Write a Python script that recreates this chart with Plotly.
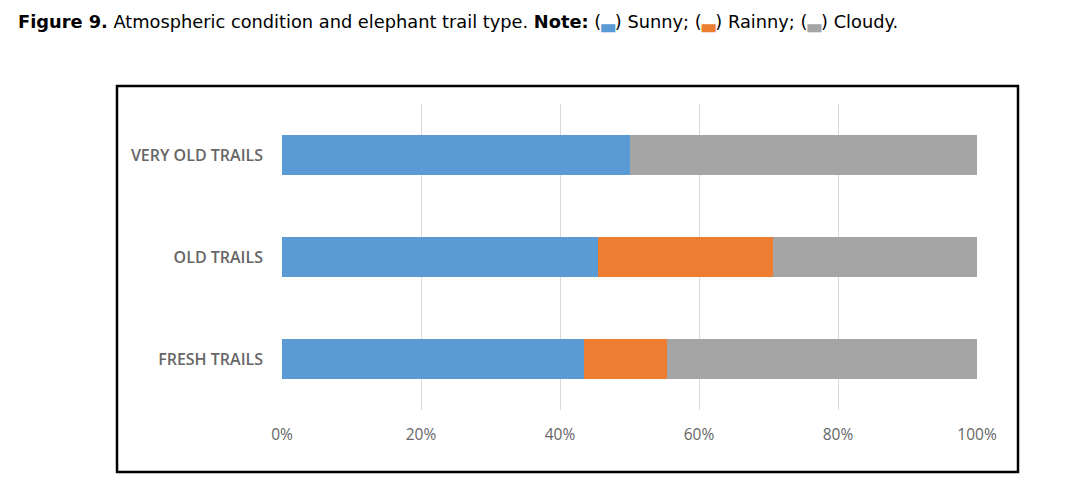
import plotly.graph_objects as go

categories = ["FRESH TRAILS", "OLD TRAILS", "VERY OLD TRAILS"]
sunny = [43.5, 45.4, 50.0]
rainy = [11.9, 25.3, 0.0]
cloudy = [44.6, 29.3, 50.0]
x_ticks = [0, 20, 40, 60, 80, 100]
x_tick_labels = ["0%", "20%", "40%", "60%", "80%", "100%"]

colors = {"Sunny": "#5B9BD5", "Rainy": "#ED7D31", "Cloudy": "#A5A5A5"}

fig = go.Figure()
for name, vals in [("Sunny", sunny), ("Rainy", rainy), ("Cloudy", cloudy)]:
    fig.add_trace(go.Bar(y=categories, x=vals, name=name, orientation="h",
                         marker=dict(color=colors[name], line=dict(width=0))))

W, H = 1075, 489
L, R, T, B = 282, 977, 104, 410
lab_font = dict(family="Open Sans, Lato, sans-serif", size=15.5, color="#666666")
fig.update_layout(
    width=W, height=H, barmode="stack", bargap=0.6, showlegend=False,
    margin=dict(l=L, r=W - R, t=T, b=H - B, autoexpand=False),
    paper_bgcolor="white", plot_bgcolor="white",
    xaxis=dict(range=[0, 100], tickvals=x_ticks, ticktext=x_tick_labels,
               showgrid=True, gridcolor="#D9D9D9", gridwidth=1, zeroline=False,
               showline=False, ticks="", ticklabelstandoff=13, tickfont=lab_font),
    yaxis=dict(categoryorder="array", categoryarray=categories, showgrid=False,
               zeroline=False, showline=False, ticks="", ticklabelstandoff=18,
               tickfont=dict(lab_font, weight=600, size=16)),
)

def px(xp):
    return (xp - L) / (R - L)

def py(yp):
    return (B - yp) / (B - T)

fig.add_shape(type="rect", xref="paper", yref="paper",
              x0=px(117), x1=px(1018), y0=py(472), y1=py(86),
              line=dict(color="black", width=2.5), fillcolor="rgba(0,0,0,0)", layer="below")

def box(c):
    return f'<span style="color:{c}">▃</span>'

title = ('<span style="font-weight:600">Figure 9.</span> Atmospheric condition and elephant trail type. '
         '<span style="font-weight:600">Note:</span> '
         f'({box(colors["Sunny"])}) Sunny; ({box(colors["Rainy"])}) Rainny; ({box(colors["Cloudy"])}) Cloudy.')
fig.add_annotation(text=title, xref="paper", yref="paper", x=px(16), y=py(22),
                   xanchor="left", yanchor="middle", showarrow=False,
                   font=dict(family="DejaVu Sans", size=17.8, color="black"))

fig.write_html("out.html")
